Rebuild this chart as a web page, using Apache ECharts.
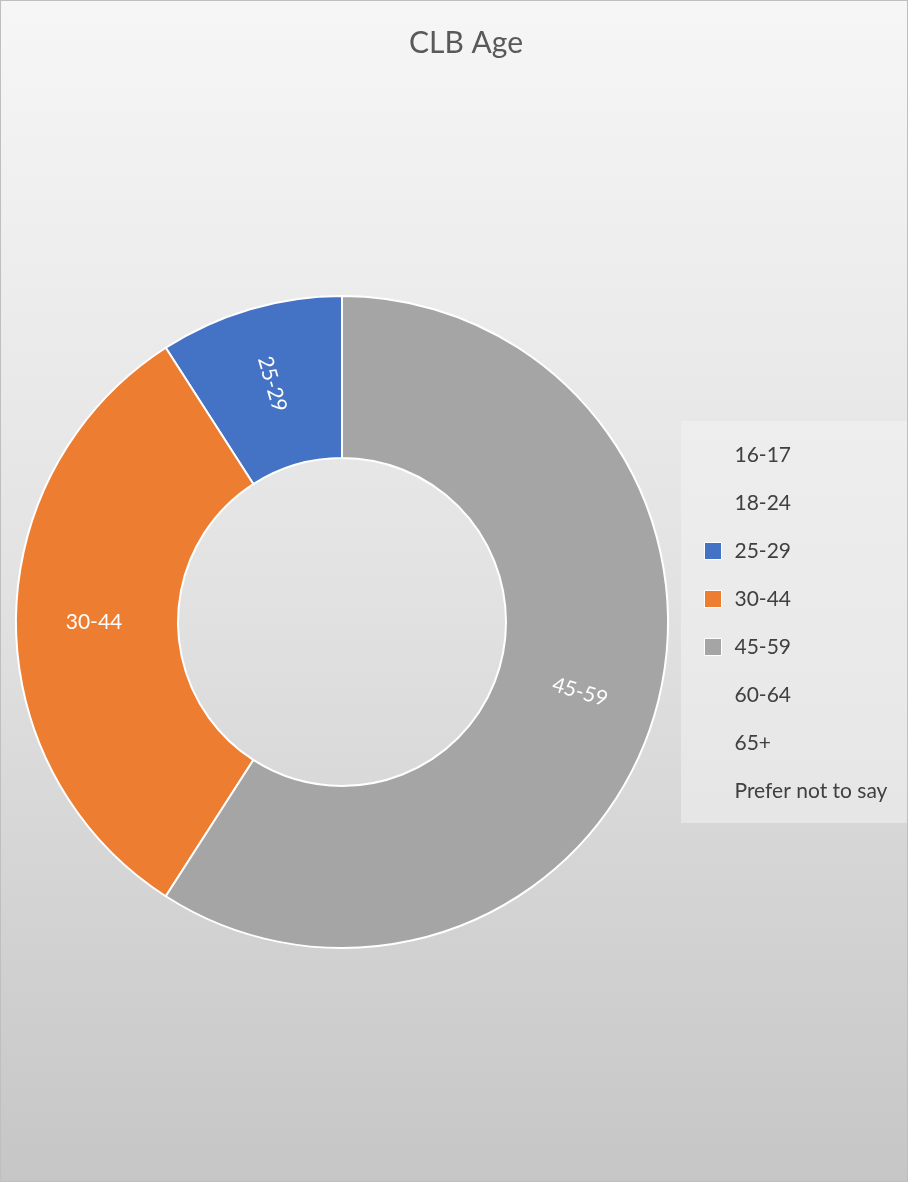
<!DOCTYPE html>
<html>
<head>
<meta charset="utf-8">
<script src="https://cdn.jsdelivr.net/npm/echarts@6/dist/echarts.min.js"></script>
<style>
html,body{margin:0;padding:0;background:#fff;}
#chart{width:908px;height:1182px;box-sizing:border-box;border:1px solid #bfbfbf;}
</style>
</head>
<body>
<div id="chart"></div>
<script>
const categories = ['16-17','18-24','25-29','30-44','45-59','60-64','65+','Prefer not to say'];
const values = [0,0,2,7,13,0,0,0];
const colors = ['#4472C4','#ED7D31','#A5A5A5','#FFC000','#5B9BD5','#70AD47','#264478','#9E480E'];
const FONT = 'Lato';

const chart = echarts.init(document.getElementById('chart'), null, {renderer:'canvas'});
let ci = 0;
const data = categories.map((c,i) => {
  const v = values[i];
  if (v === 0) {
    return {name:c, value:v, itemStyle:{color:'rgba(0,0,0,0)', borderColor:'rgba(0,0,0,0)', borderWidth:0}, label:{show:false}};
  }
  return {name:c, value:v, itemStyle:{color:colors[ci++]}};
});
const legendData = categories.map((c,i) => values[i] === 0
  ? {name:c, itemStyle:{opacity:0, borderWidth:0}}
  : {name:c});

chart.setOption({
  backgroundColor: {
    type:'linear', x:0, y:0, x2:0, y2:1,
    colorStops:[{offset:0,color:'#f6f6f6'},{offset:0.5,color:'#e2e2e2'},{offset:1,color:'#c6c6c6'}]
  },
  animation:false,
  title:{
    text:'CLB Age', left:460, top:22, textAlign:'center',
    textStyle:{fontFamily:FONT, fontSize:30, fontWeight:'normal', color:'#595959'}
  },
  legend:{
    orient:'vertical', left:680, top:420,
    padding:[22,24,20,23],
    backgroundColor:'rgba(242,242,242,0.55)',
    itemWidth:17, itemHeight:17, itemGap:24,
    icon:'rect',
    itemStyle:{borderColor:'#fff', borderWidth:1},
    selectedMode:false,
    textStyle:{fontFamily:FONT, fontSize:21, color:'#404040', lineHeight:24, padding:[0,0,0,8]},
    data: legendData
  },
  series:[{
    type:'pie',
    center:[341,621],
    radius:[164,326],
    startAngle:90,
    clockwise:false,
    avoidLabelOverlap:false,
    minShowLabelAngle:0.01,
    itemStyle:{borderColor:'#fff', borderWidth:2},
    label:{
      show:true, position:'inside', rotate:'radial',
      formatter:'{b}',
      fontFamily:FONT, fontSize:21, color:'#fff'
    },
    labelLine:{show:false},
    emphasis:{disabled:true},
    data:data
  }]
});
</script>
</body>
</html>
